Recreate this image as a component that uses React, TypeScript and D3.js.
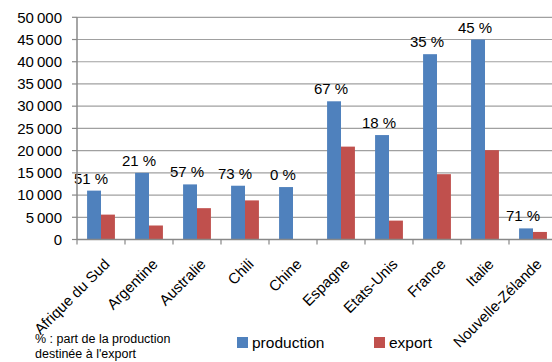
import React from "react";
import * as d3 from "d3";

const categories = ["Afrique du Sud", "Argentine", "Australie", "Chili", "Chine", "Espagne", "Etats-Unis", "France", "Italie", "Nouvelle-Zélande"];
const production = [11000, 15000, 12400, 12100, 11800, 31100, 23500, 41700, 45000, 2500];
const exportVals = [5600, 3150, 7050, 8800, 0, 20900, 4250, 14700, 20100, 1700];
const shareLabels = ["51 %", "21 %", "57 %", "73 %", "0 %", "67 %", "18 %", "35 %", "45 %", "71 %"];
const yTicks = [0, 5000, 10000, 15000, 20000, 25000, 30000, 35000, 40000, 45000, 50000];
const seriesNames = ["production", "export"];
const footnote = ["% : part de la production", "destinée à l'export"];

const W = 552, H = 362;
const left = 77, right = 557, top = 17.3, bottom = 239.5;
const BLUE = "#4F81BD", RED = "#C0504D";
const FONT = "'Liberation Sans', Arial, sans-serif";

export default function App() {
  const x = d3.scaleBand<string>().domain(categories).range([left, right]).paddingInner(0).paddingOuter(0);
  const bw = x.bandwidth();
  const groupW = bw * 0.58;
  const barW = groupW / 2;
  const y = d3.scaleLinear().domain([0, 50000]).range([bottom, top]);
  const fmt = (v: number) => d3.format(",")(v).replace(/,/g, "\u2009");
  const boundaries = categories.map((c) => x(c)!).concat([right]);

  return (
    <svg width={W} height={H} style={{ position: "absolute", left: 0, top: 0, background: "#fff" }} fontFamily={FONT}>
      {yTicks.map((t) => (
        <g key={t}>
          {t > 0 && <line x1={left} x2={W} y1={y(t)} y2={y(t)} stroke="#a0a0a0" strokeWidth={1.2} />}
          <line x1={left - 5} x2={left} y1={y(t)} y2={y(t)} stroke="#888" strokeWidth={1.2} />
          <text x={62} y={y(t)} dy="0.35em" textAnchor="end" fontSize={15} fill="#000">{fmt(t)}</text>
        </g>
      ))}
      {categories.map((c, i) => {
        const g0 = x(c)! + (bw - groupW) / 2;
        return (
          <g key={c}>
            <rect x={g0} y={y(production[i])} width={barW} height={bottom - y(production[i])} fill={BLUE} />
            {exportVals[i] > 0 && (
              <rect x={g0 + barW} y={y(exportVals[i])} width={barW} height={bottom - y(exportVals[i])} fill={RED} />
            )}
            <text x={g0 + barW / 2 - 3} y={y(production[i]) - 7} textAnchor="middle" fontSize={15} fill="#000">{shareLabels[i]}</text>
            <text
              transform={`translate(${x(c)! + bw / 2 + 2},${bottom + 18}) rotate(-45)`}
              textAnchor="end"
              dy="0.72em"
              fontSize={15}
              fill="#000"
            >
              {c}
            </text>
          </g>
        );
      })}
      <line x1={left} x2={left} y1={top} y2={bottom} stroke="#888" strokeWidth={1.5} />
      <line x1={left} x2={W} y1={bottom} y2={bottom} stroke="#888" strokeWidth={1.5} />
      {boundaries.map((b, i) => (
        <line key={i} x1={b} x2={b} y1={bottom} y2={bottom + 5} stroke="#888" strokeWidth={1.2} />
      ))}
      <text x={35} y={343} fontSize={12.5} fill="#000">{footnote[0]}</text>
      <text x={35} y={358} fontSize={12.5} fill="#000">{footnote[1]}</text>
      {seriesNames.map((s, i) => (
        <g key={s} transform={`translate(${i === 0 ? 237 : 374},337)`}>
          <rect x={0} y={0} width={11} height={11} fill={i === 0 ? BLUE : RED} />
          <text x={15} y={10.5} fontSize={15.5} fill="#000">{s}</text>
        </g>
      ))}
    </svg>
  );
}
